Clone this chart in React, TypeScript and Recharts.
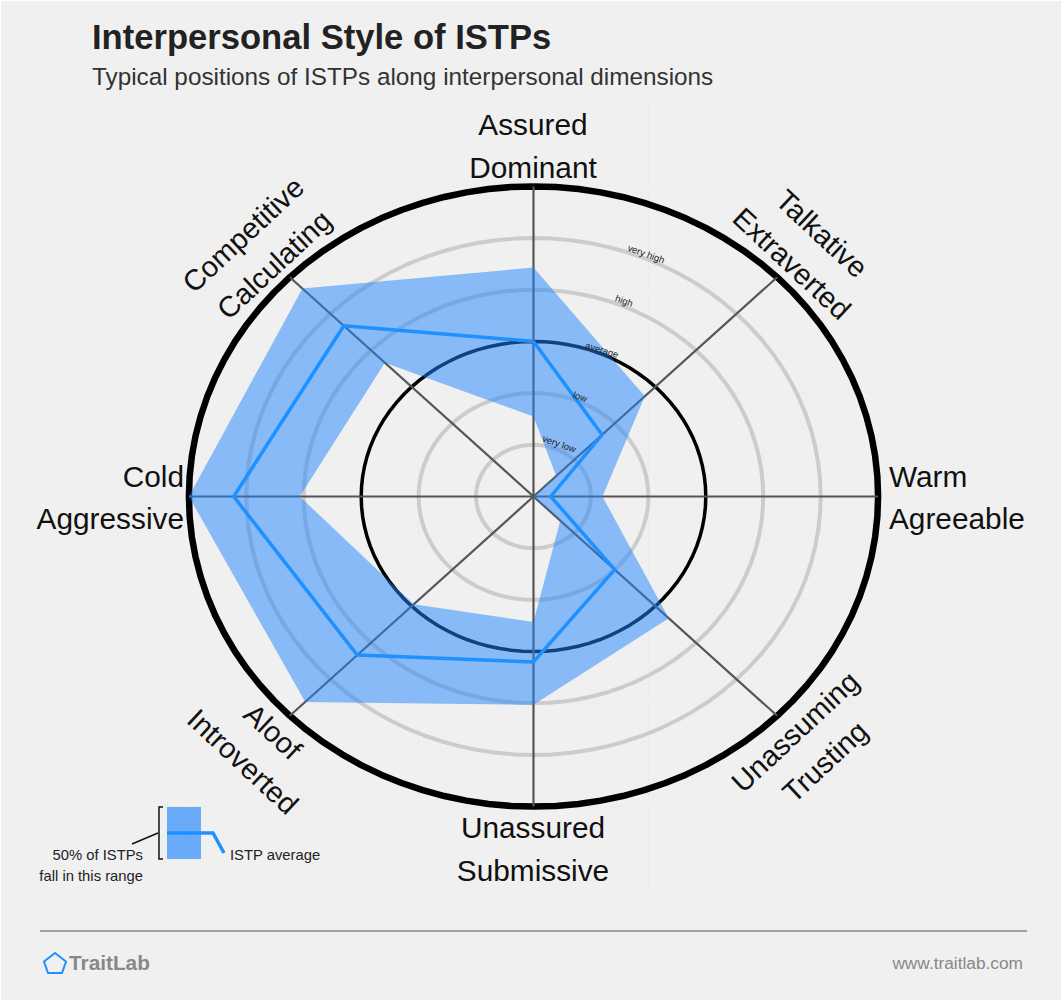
import { CartesianGrid, Scatter, ScatterChart, XAxis, YAxis } from "recharts";

// clockwise from the top spoke
const spokeNames = ["Dominant", "Extraverted", "Agreeable", "Trusting", "Submissive", "Introverted", "Aggressive", "Calculating"];
const meanLevels = [3.0, 1.69, 0.3, 2.0, 3.2, 4.34, 5.22, 4.67];
const upperLevels = [4.43, 2.74, 1.2, 3.33, 4.03, 5.62, 6.0, 5.69];
const lowerLevels = [1.55, 0.56, 0, 0.66, 2.43, 2.95, 4.07, 3.66];
const greyRings = [1, 2, 4, 5];
const gridTicks = [-6, -4, -2, 2, 4, 6];

const BLUE = "#1E90FF";
const BAND = "#2084FE";
const FONT = "'Liberation Sans', Arial, sans-serif";
const RING_STEPS = 96;

const polar = (level: number, i: number) => {
  const a = (i * Math.PI) / 4;
  return { x: level * Math.sin(a), y: level * Math.cos(a) };
};
const loop = (levels: number[]) => [...levels, levels[0]].map((v, i) => polar(v, i));

const ringPoints = (level: number) => {
  const pts = [];
  for (let i = 0; i <= RING_STEPS; i++) pts.push(polar(level, (i * 8) / RING_STEPS));
  return pts;
};

const meanLine = loop(meanLevels);
// outer edge out, inner edge back the other way, so the middle stays a hole
const bandShape = [...loop(upperLevels), ...loop(lowerLevels).reverse()];

const NoDot = () => <g />;

function Path({ points, stroke, width }: { points: { x: number; y: number }[]; stroke: string; width: number }) {
  return (
    <Scatter
      data={points}
      shape={NoDot}
      isAnimationActive={false}
      line={{ stroke, strokeWidth: width, strokeLinejoin: "round", fill: "none" }}
    />
  );
}

const big = { fontFamily: FONT, fontSize: 29.8, fill: "#111" };
const tiny = { fontFamily: FONT, fontSize: 9.5, fill: "#222", textAnchor: "middle" as const };
const small = { fontFamily: FONT, fontSize: 14.8, fill: "#222" };

function Tilted({ x, y, angle, children }: { x: number; y: number; angle: number; children: string }) {
  return (
    <text
      x={x}
      y={y}
      textAnchor="middle"
      transform={`rotate(${angle} ${x} ${y})`}
      style={{ ...big, fontSize: angle === 0 ? 29.8 : 29 }}
    >
      {children}
    </text>
  );
}

function Tiny({ x, y, angle, children }: { x: number; y: number; angle: number; children: string }) {
  return (
    <text x={x} y={y} transform={`rotate(${angle} ${x} ${y})`} style={tiny}>
      {children}
    </text>
  );
}

export default function App() {
  return (
    <div style={{ position: "absolute", left: 0, top: 0, width: 1062, height: 1000, background: "#fff" }}>
      <div style={{ position: "absolute", left: 1, top: 1, width: 1060, height: 999, background: "#f0f0f0" }} />
      <div style={{ position: "absolute", left: 0, top: 0 }}>
        <ScatterChart width={1062} height={1000} margin={{ top: 98, left: 93, right: 88, bottom: 105 }}>
          <XAxis type="number" dataKey="x" domain={[-7.67, 7.67]} hide />
          <YAxis type="number" dataKey="y" domain={[-7.71, 7.71]} hide />
          <CartesianGrid stroke="#ececec" strokeWidth={1} verticalValues={gridTicks} horizontalValues={gridTicks} />
          {greyRings.map((r) => Path({ points: ringPoints(r), stroke: "#cccccc", width: 4 }))}
          {Path({ points: ringPoints(3), stroke: "#000", width: 3.5 })}
          {Path({ points: ringPoints(6), stroke: "#000", width: 6.5 })}
          {spokeNames.map((_, i) => Path({ points: [polar(0, i), polar(6, i)], stroke: "#555", width: 2.2 }))}
          <Scatter
            data={bandShape}
            shape={NoDot}
            isAnimationActive={false}
            line={{ fill: BAND, fillOpacity: 0.5, stroke: "none" }}
          />
          {Path({ points: meanLine, stroke: BLUE, width: 3.5 })}
        </ScatterChart>
      </div>
      <svg width={1062} height={1000} style={{ position: "absolute", left: 0, top: 0 }}>
        <text x={92} y={49} style={{ fontFamily: FONT, fontSize: 34.6, fontWeight: 700, fill: "#222" }}>
          Interpersonal Style of ISTPs
        </text>
        <text x={92} y={85} style={{ fontFamily: FONT, fontSize: 24.3, fill: "#333" }}>
          Typical positions of ISTPs along interpersonal dimensions
        </text>

        <Tilted x={533} y={135} angle={0}>Assured</Tilted>
        <Tilted x={533} y={178} angle={0}>Dominant</Tilted>
        <Tilted x={533} y={838} angle={0}>Unassured</Tilted>
        <Tilted x={533} y={881} angle={0}>Submissive</Tilted>
        <Tilted x={815} y={241} angle={43}>Talkative</Tilted>
        <Tilted x={785} y={271} angle={43}>Extraverted</Tilted>
        <Tilted x={250} y={242} angle={-43}>Competitive</Tilted>
        <Tilted x={281} y={272} angle={-43}>Calculating</Tilted>
        <Tilted x={802} y={739} angle={-43}>Unassuming</Tilted>
        <Tilted x={832} y={769} angle={-43}>Trusting</Tilted>
        <Tilted x={266} y={739} angle={43}>Aloof</Tilted>
        <Tilted x={236} y={769} angle={43}>Introverted</Tilted>
        <text x={184} y={487} textAnchor="end" style={big}>Cold</text>
        <text x={184} y={529} textAnchor="end" style={big}>Aggressive</text>
        <text x={889} y={487} style={big}>Warm</text>
        <text x={889} y={529} style={big}>Agreeable</text>

        <Tiny x={645} y={257} angle={20}>very high</Tiny>
        <Tiny x={623} y={304} angle={20}>high</Tiny>
        <Tiny x={601} y={353} angle={17}>average</Tiny>
        <Tiny x={579} y={400} angle={20}>low</Tiny>
        <Tiny x={558} y={447} angle={20}>very low</Tiny>

        <rect x={167} y={807} width={34} height={52} fill={BAND} fillOpacity={0.65} />
        <polyline points="167,833 213,833 224,853" fill="none" stroke={BLUE} strokeWidth={3.5} />
        <polyline points="163,807 159,807 159,859 163,859" fill="none" stroke="#111" strokeWidth={1.5} />
        <line x1={158} y1={833} x2={132} y2={844} stroke="#111" strokeWidth={1.5} />
        <text x={143} y={860} textAnchor="end" style={small}>50% of ISTPs</text>
        <text x={143} y={881} textAnchor="end" style={small}>fall in this range</text>
        <text x={230} y={860} style={small}>ISTP average</text>

        <line x1={40} y1={931} x2={1027} y2={931} stroke="#888" strokeWidth={1.5} />
        <polygon points="55,953 66,961.5 62,973 48,973 44,961.5" fill="none" stroke={BLUE} strokeWidth={2} />
        <text x={69} y={970} style={{ fontFamily: FONT, fontSize: 20.8, fontWeight: 700, fill: "#888" }}>TraitLab</text>
        <text x={1023} y={969} textAnchor="end" style={{ fontFamily: FONT, fontSize: 17.3, fill: "#888" }}>www.traitlab.com</text>
      </svg>
    </div>
  );
}
